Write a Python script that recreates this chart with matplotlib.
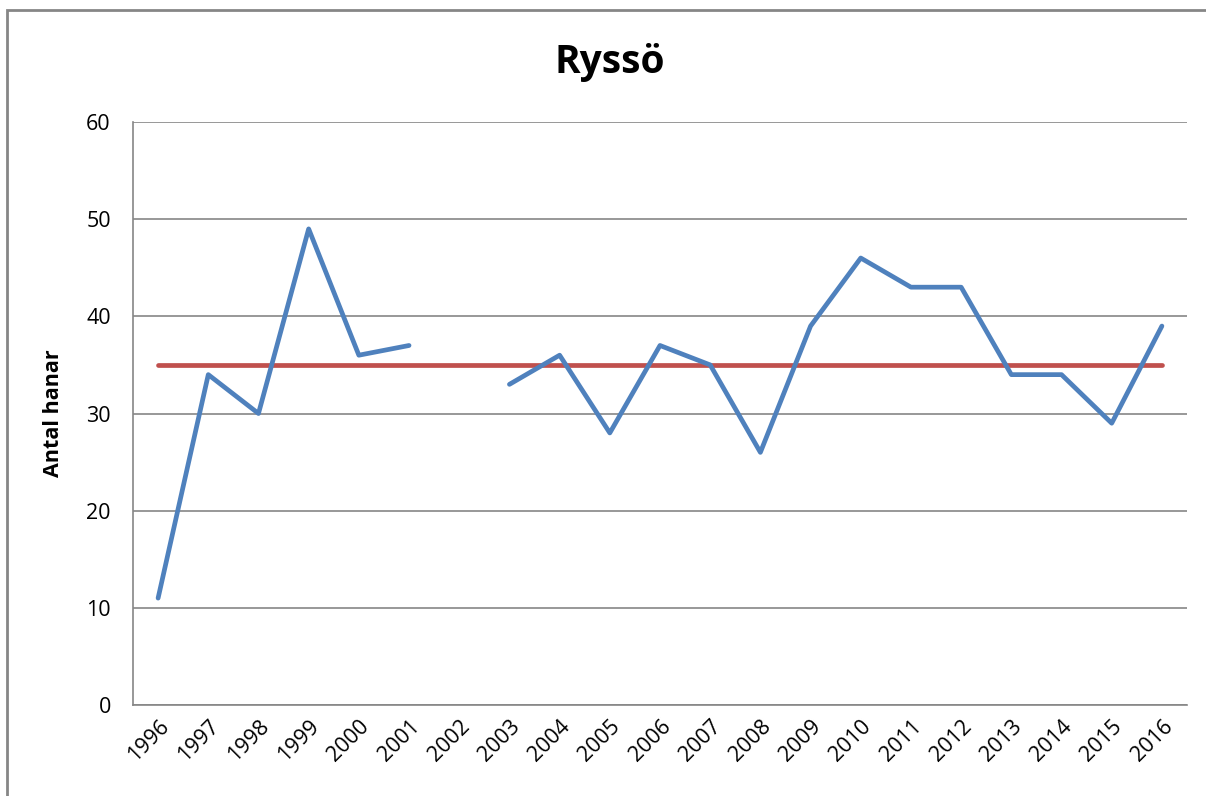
import numpy as np
import matplotlib.pyplot as plt
from matplotlib.patches import Rectangle

plt.rcParams['font.family'] = ['Open Sans', 'DejaVu Sans']

#---Data
years = ['1996', '1997', '1998', '1999', '2000', '2001', '2002', '2003', '2004', '2005', '2006',
         '2007', '2008', '2009', '2010', '2011', '2012', '2013', '2014', '2015', '2016']
hanar = [11, 34, 30, 49, 36, 37, np.nan, 33, 36, 28, 37,
         35, 26, 39, 46, 43, 43, 34, 34, 29, 39]
medel = [35] * len(years)

#---Plot
fig = plt.figure(figsize=(12.06, 7.96), dpi=100)
ax = fig.add_axes([133/1206, 1-705/796, (1187-133)/1206, (705-122)/796])

x = np.arange(len(years))
ax.plot(x, hanar, '-', color='#4F81BD', linewidth=3.4, solid_capstyle='round', zorder=3)
ax.plot(x, medel, '-', color='#C0504D', linewidth=3.4, solid_capstyle='round', zorder=2)

ax.set_xlim(-0.5, len(years) - 0.5)
ax.set_ylim(0, 60)
ax.set_yticks(range(0, 61, 10))
ax.set_xticks(x)
ax.set_xticklabels(years, rotation=45, ha='right', rotation_mode='anchor', fontsize=15.5)
ax.tick_params(axis='y', labelsize=15.5, length=0, pad=16)
ax.tick_params(axis='x', length=0, pad=8)
ax.grid(True, axis='y', color='#868686', linewidth=1.2)
ax.set_axisbelow(True)
for s in ['top', 'right']:
    ax.spines[s].set_visible(False)
for s in ['left', 'bottom']:
    ax.spines[s].set_color('#868686')
    ax.spines[s].set_linewidth(1.2)

ax.set_ylabel('Antal hanar', fontsize=15.5, fontweight='bold', labelpad=16)
fig.text(610/1206, 1-62/796, 'Ryssö', fontsize=28, fontweight='bold', ha='center', va='center')

# chart area border
fig.patches.append(Rectangle((7/1206, -0.05), 1.1, 1-10/796+0.05, transform=fig.transFigure,
                             fill=False, edgecolor='#868686', linewidth=2))

plt.savefig('out.png', dpi=100)
